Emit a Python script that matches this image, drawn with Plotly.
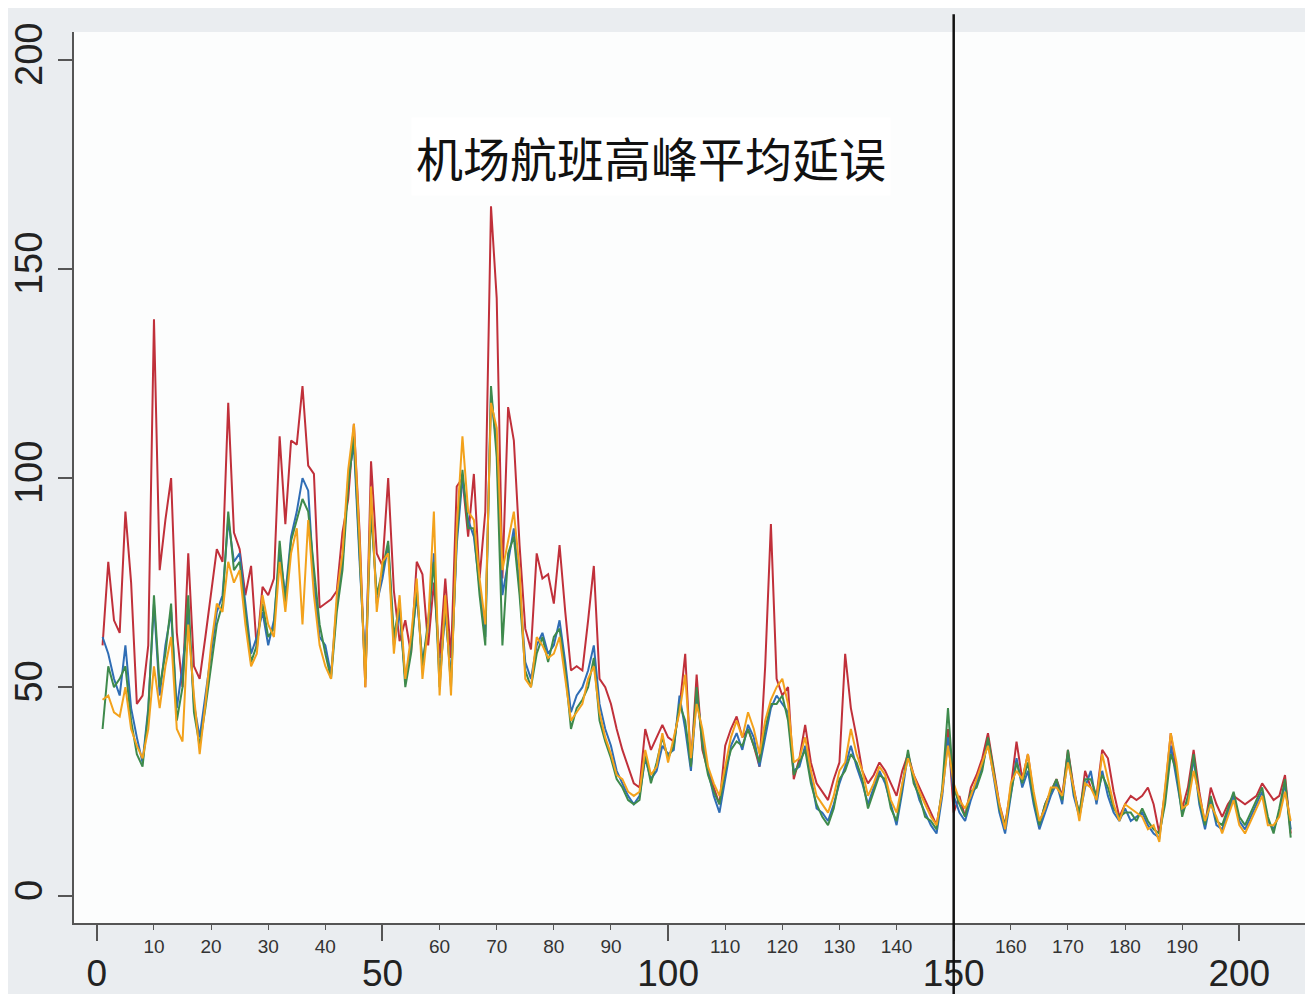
import plotly.graph_objects as go

# ---------------- data ----------------
red = [60, 80, 66, 63, 92, 75, 46, 48, 60, 138,
       78, 90, 100, 63, 50, 82, 55, 52, 62, 72,
       83, 80, 118, 87, 83, 72, 79, 59, 74, 72,
       76, 110, 89, 109, 108, 122, 103, 101, 69, 70,
       71, 73, 87, 95, 113, 87, 50, 104, 82, 79,
       100, 73, 61, 66, 58, 80, 77, 60, 75, 57,
       76, 57, 98, 100, 86, 101, 76, 92, 165, 143,
       76, 117, 109, 84, 64, 59, 82, 76, 77, 70,
       84, 68, 54, 55, 54, 66, 79, 52, 50, 46,
       40, 35, 31, 27, 26, 40, 35, 38, 41, 38,
       37, 45, 58, 31, 53, 35, 30, 26, 22, 36,
       40, 43, 38, 40, 36, 31, 55, 89, 52, 48,
       50, 28, 33, 41, 32, 27, 25, 23, 28, 32,
       58, 45, 38, 30, 27, 29, 32, 30, 27, 24,
       30, 34, 29, 26, 23, 20, 17, 25, 40, 20,
       24, 19, 26, 29, 33, 39, 30, 22, 17, 26,
       37, 28, 34, 24, 17, 22, 25, 28, 24, 35,
       26, 19, 30, 26, 24, 35, 33, 25, 19, 22,
       24, 23, 24, 26, 22, 15, 25, 39, 30, 21,
       26, 35, 25, 17, 26, 22, 19, 22, 24, 23,
       22, 23, 24, 27, 25, 23, 24, 29, 15]

blue = [62, 58, 52, 48, 60, 45, 38, 32, 45, 70,
        48, 60, 68, 45, 55, 68, 46, 38, 48, 58,
        68, 72, 90, 80, 82, 70, 58, 62, 68, 60,
        66, 82, 72, 86, 92, 100, 97, 75, 62, 60,
        53, 70, 80, 100, 108, 80, 55, 95, 70, 76,
        84, 60, 68, 52, 60, 72, 56, 64, 82, 52,
        68, 52, 84, 100, 90, 86, 74, 62, 120, 108,
        72, 80, 88, 74, 56, 52, 60, 63, 58, 60,
        66, 56, 44, 48, 50, 54, 60, 46, 40, 36,
        30, 27, 24, 22, 24, 33, 28, 30, 36, 34,
        35, 48, 40, 30, 48, 38, 30, 24, 20, 28,
        36, 39, 35, 41, 38, 31, 38, 45, 48, 46,
        44, 30, 31, 36, 28, 21, 20, 18, 22, 27,
        31, 36, 31, 27, 22, 26, 30, 27, 22, 17,
        25, 34, 28, 23, 20, 17, 15, 24, 38, 24,
        20, 18, 23, 27, 31, 37, 28, 20, 15, 24,
        33, 26, 30, 22, 16, 20, 24, 27, 22, 34,
        24, 19, 26, 30, 22, 30, 24, 20, 18, 21,
        18, 19, 20, 17, 15, 14, 24, 36, 28, 20,
        23, 33, 22, 16, 23, 17, 16, 20, 24, 18,
        16, 19, 22, 25, 18, 16, 20, 27, 16]

green = [40, 55, 50, 52, 55, 42, 34, 31, 44, 72,
         50, 58, 70, 42, 50, 72, 44, 36, 45, 55,
         65, 70, 92, 78, 80, 68, 56, 60, 70, 62,
         64, 85, 70, 85, 90, 95, 92, 78, 65, 58,
         52, 68, 78, 98, 110, 82, 52, 92, 72, 78,
         85, 62, 70, 50, 58, 74, 55, 66, 80, 50,
         70, 50, 86, 102, 88, 88, 72, 60, 122, 105,
         60, 82, 86, 72, 54, 50, 58, 62, 56, 62,
         64, 54, 40, 45, 47, 50, 57, 42, 37, 33,
         28, 26, 23, 22, 23, 34, 27, 32, 38, 33,
         36, 46, 42, 31, 50, 36, 29, 25, 22, 30,
         35, 37, 36, 40, 36, 32, 40, 46, 46, 48,
         42, 29, 32, 35, 27, 22, 19, 17, 21, 28,
         30, 34, 32, 28, 21, 25, 29, 28, 21, 18,
         26, 35, 27, 24, 19, 18, 16, 26, 45, 26,
         22, 19, 25, 26, 30, 38, 30, 21, 17, 25,
         32, 27, 32, 23, 17, 22, 25, 28, 23, 35,
         25, 20, 28, 28, 24, 29, 26, 21, 19, 20,
         20, 18, 21, 18, 16, 15, 22, 34, 30, 19,
         24, 34, 23, 17, 24, 18, 17, 21, 25, 19,
         17, 20, 23, 26, 19, 15, 21, 28, 14]

orange = [47, 48, 44, 43, 50, 40, 36, 33, 40, 55,
          45, 55, 62, 40, 37, 65, 48, 34, 46, 60,
          70, 68, 80, 75, 78, 65, 55, 58, 72, 65,
          62, 80, 68, 82, 88, 65, 90, 72, 60, 55,
          52, 72, 82, 102, 113, 85, 50, 98, 68, 80,
          82, 58, 72, 52, 62, 76, 52, 65, 92, 48,
          72, 48, 88, 110, 92, 90, 76, 65, 118, 112,
          78, 85, 92, 78, 52, 50, 62, 60, 57, 58,
          62, 52, 42, 44, 46, 52, 55, 44, 38, 34,
          29, 28, 25, 24, 25, 35, 29, 31, 39, 32,
          38, 44, 53, 33, 46, 40, 31, 27, 24, 31,
          38, 42, 38, 44, 40, 34, 42, 47, 50, 52,
          46, 32, 33, 38, 30, 24, 22, 20, 24, 30,
          32, 40, 34, 30, 24, 27, 31, 29, 23, 20,
          27, 33, 29, 25, 22, 19, 17, 25, 36, 27,
          23, 21, 24, 28, 32, 36, 29, 22, 16, 27,
          30, 28, 34, 25, 18, 21, 26, 26, 24, 32,
          26, 18, 27, 26, 23, 34, 28, 22, 18, 22,
          21, 20, 19, 16, 17, 13, 26, 39, 32, 21,
          22, 30, 24, 18, 22, 19, 15, 19, 23, 17,
          15, 18, 21, 24, 17, 17, 19, 25, 18]

periods = list(range(1, len(red) + 1))

major_x_ticks = [0, 50, 100, 150, 200]
minor_x_ticks = [10, 20, 30, 40, 60, 70, 80, 90, 110, 120, 130, 140,
                 160, 170, 180, 190]
y_ticks = [0, 50, 100, 150, 200]
marker_period = 150
title_text = "机场航班高峰平均延误"

series = [("red", red, "#C0303A"),
          ("blue", blue, "#2F6DB5"),
          ("green", green, "#3E8A4C"),
          ("orange", orange, "#F3A21C")]

# ---------------- figure ----------------
fig = go.Figure()
for name, vals, col in series:
    fig.add_trace(go.Scatter(x=periods, y=vals, mode="lines", name=name,
                             line=dict(color=col, width=2), showlegend=False,
                             hoverinfo="skip"))
# invisible trace to host the secondary (minor-label) x axis
fig.add_trace(go.Scatter(x=[periods[0]], y=[red[0]], xaxis="x2", mode="markers",
                         marker=dict(opacity=0), showlegend=False, hoverinfo="skip"))

x_range = [-4.0, 211.5]
y_range = [-6.4, 206.7]

fig.update_layout(
    width=1297, height=986,
    margin=dict(l=58, r=0, t=24, b=65),
    paper_bgcolor="#eaedf0",
    plot_bgcolor="#fcfdfd",
    font=dict(family="Liberation Sans, Arial, sans-serif", color="#2a2a2a"),
    xaxis=dict(range=x_range, tickmode="array", tickvals=major_x_ticks,
               ticktext=[str(v) for v in major_x_ticks],
               ticks="outside", ticklen=16, tickwidth=1.5, tickcolor="#555",
               tickfont=dict(size=37, color="#222"), ticklabelstandoff=1,
               showline=True, linecolor="#555", linewidth=1.5,
               showgrid=False, zeroline=False),
    xaxis2=dict(range=x_range, overlaying="x", anchor="y", side="bottom",
                tickmode="array", tickvals=minor_x_ticks,
                ticktext=[str(v) for v in minor_x_ticks],
                ticks="outside", ticklen=6, tickwidth=1.2, tickcolor="#555",
                tickfont=dict(size=19, color="#333",
                              family="Liberation Sans Narrow, Arial Narrow, Liberation Sans, Arial"),
                ticklabelstandoff=0,
                showline=False, showgrid=False, zeroline=False),
    yaxis=dict(range=y_range, tickmode="array", tickvals=y_ticks,
               ticktext=[str(v) for v in y_ticks],
               ticks="outside", ticklen=14, tickwidth=1.5, tickcolor="#555",
               tickangle=-90, tickfont=dict(size=38, color="#222"),
               ticklabelstandoff=1,
               showline=True, linecolor="#555", linewidth=1.5,
               showgrid=False, zeroline=False),
)

fig.add_shape(type="line", xref="x", yref="paper",
              x0=marker_period, x1=marker_period, y0=-0.09, y1=1.02,
              line=dict(color="#111", width=2.5), layer="above")

fig.add_annotation(x=97, y=177, xref="x", yref="y", text=title_text,
                   showarrow=False, bgcolor="#ffffff",
                   font=dict(family="Noto Sans CJK SC", size=47, color="#111"),
                   borderpad=4)

fig.write_html("out.html")
